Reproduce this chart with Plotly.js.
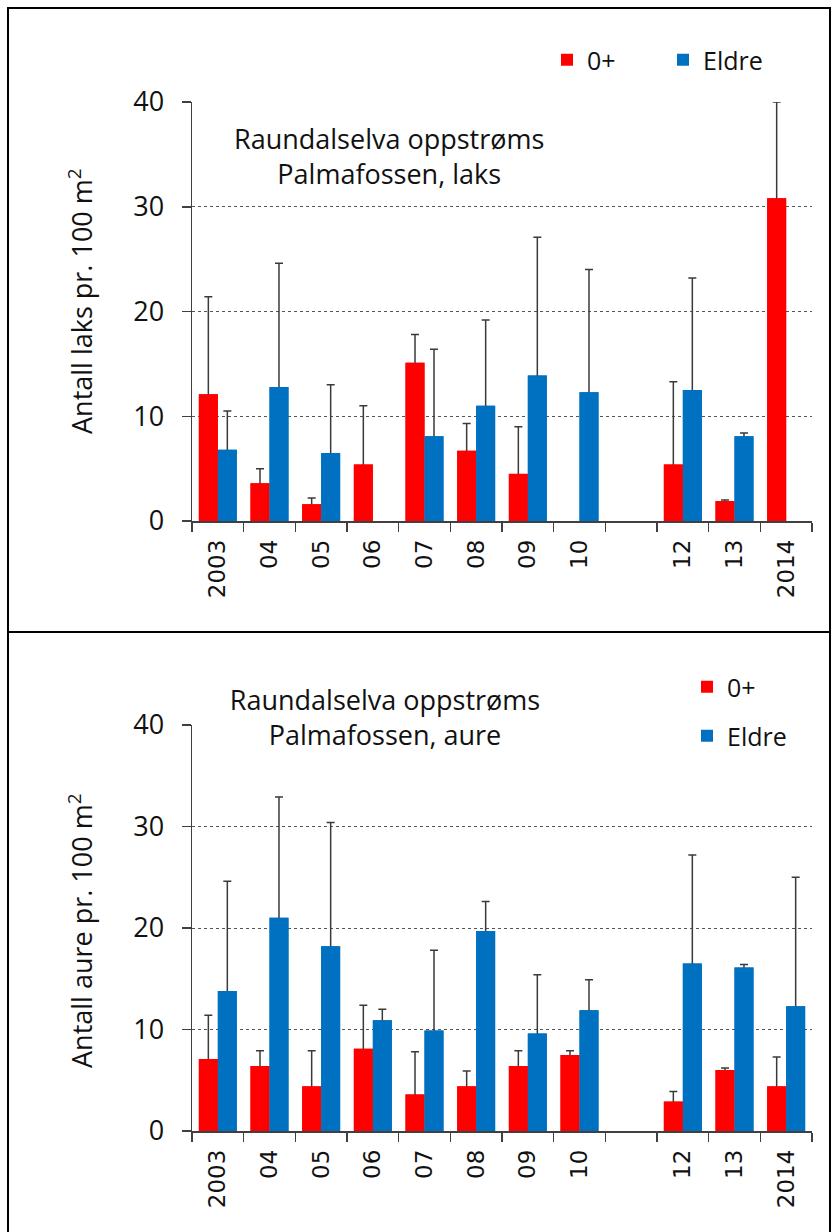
<!DOCTYPE html>
<html>
<head>
<meta charset="utf-8">
<script src="https://cdn.plot.ly/plotly-3.0.1.min.js"></script>
<style>
html,body{margin:0;padding:0;background:#fff;width:832px;height:1232px;overflow:hidden;}
#chart{width:832px;height:1232px;overflow:hidden;}
</style>
</head>
<body>
<div id="chart"></div>
<script>
// ---- Data ----
const categories = ['2003','04','05','06','07','08','09','10','','12','13','2014'];
const seriesNames = ['0+', 'Eldre'];

// Panel 1: laks
const laks0 = [12.1, 3.6, 1.6, 5.4, 15.1, 6.7, 4.5, null, null, 5.4, 1.9, 30.8];
const laks0Err = [9.3, 1.4, 0.6, 5.6, 2.7, 2.6, 4.5, null, null, 7.9, 0.1, 9.2];
const laksEldre = [6.8, 12.8, 6.5, null, 8.1, 11.0, 13.9, 12.3, null, 12.5, 8.1, null];
const laksEldreErr = [3.7, 11.8, 6.5, null, 8.3, 8.2, 13.2, 11.7, null, 10.7, 0.3, null];

// Panel 2: aure
const aure0 = [7.1, 6.4, 4.4, 8.1, 3.6, 4.4, 6.4, 7.5, null, 2.9, 6.0, 4.4];
const aure0Err = [4.3, 1.5, 3.5, 4.3, 4.2, 1.5, 1.5, 0.4, null, 1.0, 0.2, 2.9];
const aureEldre = [13.8, 21.0, 18.2, 10.9, 9.9, 19.7, 9.6, 11.9, null, 16.5, 16.1, 12.3];
const aureEldreErr = [10.8, 11.9, 12.2, 1.1, 7.9, 2.9, 5.8, 3.0, null, 10.7, 0.3, 12.7];

const yTicks = [0, 10, 20, 30, 40];
const title1 = 'Raundalselva oppstrøms<br>Palmafossen, laks';
const title2 = 'Raundalselva oppstrøms<br>Palmafossen, aure';
const yTitle1 = 'Antall laks pr. 100 m<sup>2</sup>';
const yTitle2 = 'Antall aure pr. 100 m<sup>2</sup>';

// ---- Styling ----
const RED = '#FF0000', BLUE = '#0070C0';
const W = 832, H = 1232;
const px = v => v / W;
const py = v => 1 - v / H;
const xIdx = categories.map((c, i) => i);
const FONT = 'Open Sans, sans-serif';

function errTrace(vals, errs, color, xa, ya, og) {
  return {
    type: 'bar', x: xIdx, y: vals, xaxis: xa, yaxis: ya, offsetgroup: og,
    marker: {color: color, line: {width: 0}}, showlegend: false, hoverinfo: 'skip',
    error_y: {type: 'data', symmetric: false, array: errs,
      arrayminus: errs.map((e, i) => (e == null ? null : vals[i])),
      color: '#3a3a3a', thickness: 1.5, width: 4}
  };
}
function coverTrace(vals, name, color, xa, ya, og, legend) {
  return {
    type: 'bar', x: xIdx, y: vals, xaxis: xa, yaxis: ya, offsetgroup: og, name: name,
    marker: {color: color, line: {width: 0}}, showlegend: true, legend: legend
  };
}

const traces = [
  errTrace(laks0, laks0Err, RED, 'x', 'y', 'a'),
  errTrace(laksEldre, laksEldreErr, BLUE, 'x', 'y', 'b'),
  coverTrace(laks0, seriesNames[0], RED, 'x', 'y', 'a', 'legend'),
  coverTrace(laksEldre, seriesNames[1], BLUE, 'x', 'y', 'b', 'legend2'),
  errTrace(aure0, aure0Err, RED, 'x2', 'y2', 'a'),
  errTrace(aureEldre, aureEldreErr, BLUE, 'x2', 'y2', 'b'),
  coverTrace(aure0, seriesNames[0], RED, 'x2', 'y2', 'a', 'legend3'),
  coverTrace(aureEldre, seriesNames[1], BLUE, 'x2', 'y2', 'b', 'legend4')
];

function xAxis(yAnchor) {
  return {
    domain: [px(192), px(812)], anchor: yAnchor,
    range: [-0.5, categories.length - 0.5],
    tickmode: 'array', tickvals: xIdx, ticktext: categories,
    tickangle: -90, ticks: '', ticklabelstandoff: 8,
    tickfont: {family: 'DejaVu Sans, sans-serif', size: 23, color: '#111'},
    showline: true, linecolor: '#404040', linewidth: 1.5,
    showgrid: false, zeroline: false, fixedrange: true,
    minor: {tickmode: 'linear', tick0: -0.5, dtick: 1, ticks: 'outside', ticklen: 9,
            tickcolor: '#404040', tickwidth: 1.5, showgrid: false}
  };
}
function yAxis(top, bottom, xAnchor) {
  return {
    domain: [py(bottom), py(top)], anchor: xAnchor,
    range: [0, 40], tickmode: 'array', tickvals: yTicks,
    ticks: 'outside', ticklen: 9, tickcolor: '#404040', tickwidth: 1.5,
    tickfont: {family: FONT, size: 27, color: '#111'}, ticklabelstandoff: 12,
    showline: true, linecolor: '#404040', linewidth: 1.5,
    showgrid: true, gridcolor: '#555', gridwidth: 1, griddash: 'dot',
    zeroline: false, fixedrange: true
  };
}

function legendAt(xpx, ypx, ew) {
  return {x: px(xpx), y: py(ypx), xanchor: 'left', yanchor: 'middle',
    orientation: 'h', bgcolor: '#fff', borderwidth: 0,
    font: {family: FONT, size: 25, color: '#111'}, itemwidth: 30,
    entrywidth: ew, tracegroupgap: 0};
}

const layout = {
  width: W, height: H,
  margin: {l: 0, r: 0, t: 0, b: 0},
  paper_bgcolor: '#fff', plot_bgcolor: 'rgba(0,0,0,0)',
  barmode: 'group', bargap: 0.265, bargroupgap: 0,
  font: {family: FONT, color: '#111'},
  xaxis: xAxis('y'),
  yaxis: yAxis(102, 521, 'x'),
  xaxis2: xAxis('y2'),
  yaxis2: yAxis(725, 1131, 'x2'),
  legend: legendAt(547, 60, 60),
  legend2: legendAt(663, 60, 80),
  legend3: legendAt(687, 687, 60),
  legend4: legendAt(687, 736, 80),
  annotations: [
    {text: title1, xref: 'paper', yref: 'paper', x: px(389), y: py(156), xanchor: 'center', yanchor: 'middle',
     showarrow: false, font: {family: FONT, size: 27, color: '#111'}},
    {text: title2, xref: 'paper', yref: 'paper', x: px(385), y: py(717), xanchor: 'center', yanchor: 'middle',
     showarrow: false, font: {family: FONT, size: 27, color: '#111'}, bgcolor: '#fff', width: 330},
    {text: yTitle1, xref: 'paper', yref: 'paper', x: px(80), y: py(301), xanchor: 'center', yanchor: 'middle',
     textangle: -90, showarrow: false, font: {family: FONT, size: 27, color: '#111'}},
    {text: yTitle2, xref: 'paper', yref: 'paper', x: px(80), y: py(931), xanchor: 'center', yanchor: 'middle',
     textangle: -90, showarrow: false, font: {family: FONT, size: 27, color: '#111'}}
  ],
  shapes: [
    {type: 'rect', xref: 'paper', yref: 'paper', x0: px(8), x1: px(830), y0: py(632), y1: py(8),
     line: {color: '#000', width: 2}},
    {type: 'rect', xref: 'paper', yref: 'paper', x0: px(8), x1: px(830), y0: py(1240), y1: py(632),
     line: {color: '#000', width: 2}}
  ]
};

Plotly.newPlot('chart', traces, layout, {staticPlot: true, displayModeBar: false});
</script>
</body>
</html>
